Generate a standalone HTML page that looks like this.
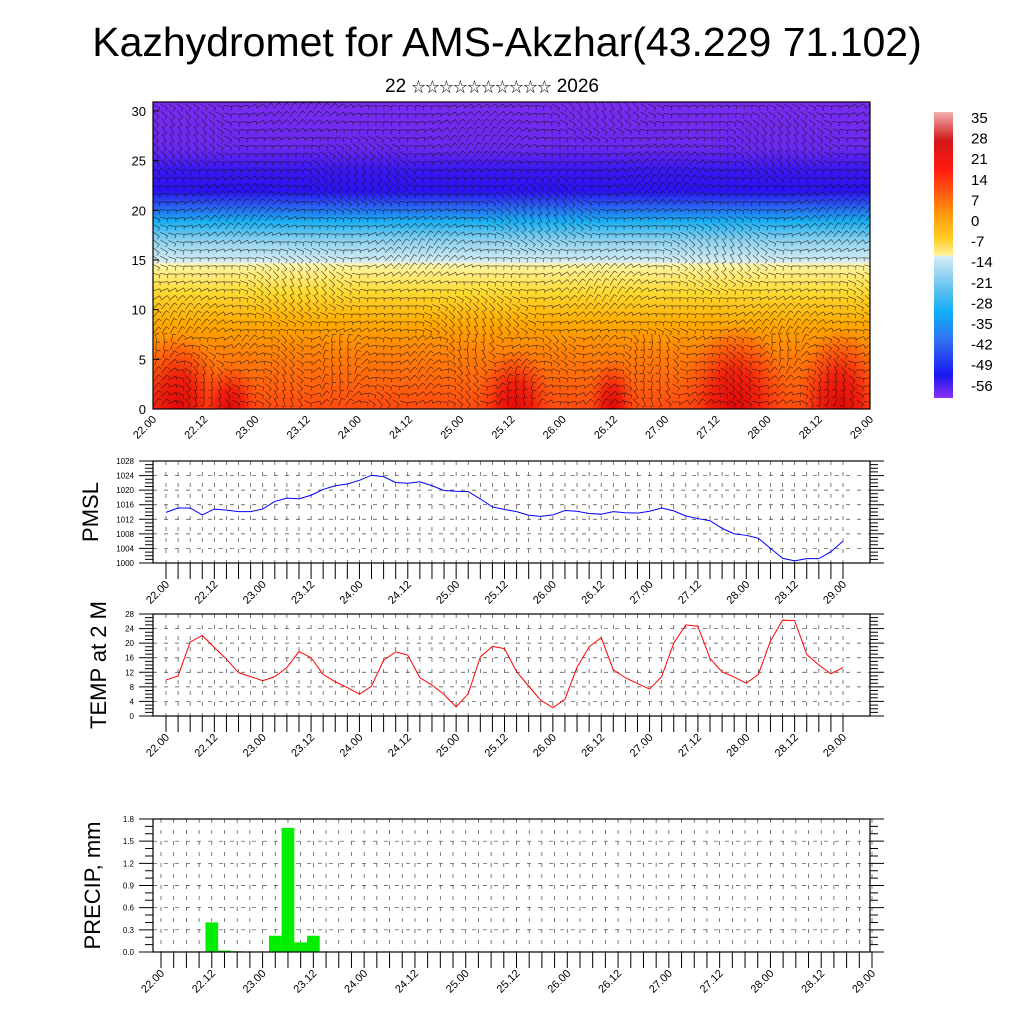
<!DOCTYPE html>
<html><head><meta charset="utf-8"><style>
html,body{margin:0;padding:0;background:#fff;}
svg{display:block;font-family:"Liberation Sans","Noto Sans CJK SC",sans-serif;}
</style></head><body>
<svg id="root" width="1024" height="1024" viewBox="0 0 1024 1024">
<defs>
<linearGradient id="tfill" x1="0" y1="102" x2="0" y2="409" gradientUnits="userSpaceOnUse">
<stop offset="0" stop-color="#7a2cf0"/>
<stop offset="0.15" stop-color="#6a28ee"/>
<stop offset="0.22" stop-color="#3a18f0"/>
<stop offset="0.29" stop-color="#2a12f0"/>
<stop offset="0.33" stop-color="#2a50f0"/>
<stop offset="0.39" stop-color="#1ab0f2"/>
<stop offset="0.45" stop-color="#8ad0f0"/>
<stop offset="0.52" stop-color="#d8ecf2"/>
<stop offset="0.53" stop-color="#fff6a8"/>
<stop offset="0.62" stop-color="#ffda30"/>
<stop offset="0.72" stop-color="#ffaa00"/>
<stop offset="0.82" stop-color="#ff8008"/>
<stop offset="1" stop-color="#ff4a10"/>
</linearGradient>
<radialGradient id="hot" cx="0.5" cy="0.5" r="0.5">
<stop offset="0" stop-color="#e00808" stop-opacity="1"/>
<stop offset="0.45" stop-color="#ee1a0c" stop-opacity="0.9"/>
<stop offset="0.8" stop-color="#ff3a10" stop-opacity="0.4"/>
<stop offset="1" stop-color="#ff4010" stop-opacity="0"/>
</radialGradient>
<linearGradient id="cbar" x1="0" y1="0" x2="0" y2="1">
<stop offset="0" stop-color="#f4b0b0"/>
<stop offset="0.1" stop-color="#d01818"/>
<stop offset="0.2" stop-color="#ff1a10"/>
<stop offset="0.28" stop-color="#ff5a10"/>
<stop offset="0.36" stop-color="#ff9a10"/>
<stop offset="0.44" stop-color="#ffcc20"/>
<stop offset="0.5" stop-color="#fff09a"/>
<stop offset="0.505" stop-color="#d8ecf6"/>
<stop offset="0.62" stop-color="#60c0f0"/>
<stop offset="0.7" stop-color="#10b0f8"/>
<stop offset="0.8" stop-color="#3070f0"/>
<stop offset="0.92" stop-color="#1818f0"/>
<stop offset="1" stop-color="#8a30f0"/>
</linearGradient>
<clipPath id="topclip"><rect x="153" y="102" width="717" height="307"/></clipPath>
</defs>

<text x="507" y="56" font-size="41" text-anchor="middle">Kazhydromet for AMS-Akzhar(43.229 71.102)</text>
<text x="492" y="92" font-size="19" text-anchor="middle">22 <tspan font-size="14">☆☆☆☆☆☆☆☆☆☆</tspan> 2026</text>

<g id="topPanel"></g>
<g id="cb"></g>
<g id="pmsl"></g>
<g id="temp"></g>
<g id="precip"></g>
</svg>
<script>
const timeLabels = ["22.00","22.12","23.00","23.12","24.00","24.12","25.00","25.12","26.00","26.12","27.00","27.12","28.00","28.12","29.00"];
const pmslValues = [1013.9,1015.1,1015.1,1013.2,1014.8,1014.5,1014.1,1014.1,1014.8,1016.9,1017.8,1017.6,1018.6,1020.2,1021.2,1021.7,1022.7,1024.1,1023.7,1022.1,1021.9,1022.3,1021.2,1019.9,1019.7,1019.6,1017.6,1015.4,1014.7,1014.1,1013.1,1012.8,1013.2,1014.4,1014.2,1013.6,1013.4,1014.1,1013.8,1013.7,1014.2,1015.1,1014.3,1012.9,1012.2,1011.6,1009.5,1008.0,1007.6,1006.8,1004.0,1001.3,1000.6,1001.2,1001.2,1003.1,1006.0];
const tempValues = [9.9,11.0,20.3,22.1,18.8,15.6,11.9,10.8,9.7,10.8,13.3,17.7,16.0,11.4,9.4,7.8,6.0,8.2,15.3,17.6,16.7,10.5,8.5,5.9,2.5,6.1,16.2,19.1,18.5,12.2,8.2,4.3,2.3,4.6,13.4,19.0,21.5,12.7,10.5,8.9,7.4,10.8,20.0,25.0,24.6,15.8,12.1,10.7,9.0,11.4,20.6,26.3,26.2,16.9,14.0,11.6,13.3];
const precipValues = [0,0,0,0,0.4,0.02,0.01,0,0,0.22,1.68,0.13,0.22,0,0,0,0,0,0,0,0,0,0,0,0,0,0,0,0,0,0,0,0,0,0,0,0,0,0,0,0,0,0,0,0,0,0,0,0,0,0,0,0,0,0,0,0];
const pmslTicks = [1000,1004,1008,1012,1016,1020,1024,1028];
const tempTicks = [0,4,8,12,16,20,24,28];
const precipTicks = [0.0,0.3,0.6,0.9,1.2,1.5,1.8];
const heightTicks = [0,5,10,15,20,25,30];
const cbarLabels = ["35","28","21","14","7","0","-7","-14","-21","-28","-35","-42","-49","-56"];

const NS="http://www.w3.org/2000/svg";
function mk(p,tag,attrs){const e=document.createElementNS(NS,tag);for(const k in attrs)e.setAttribute(k,attrs[k]);p.appendChild(e);return e;}

const topG=document.getElementById('topPanel');
const tg=mk(topG,'g',{'clip-path':'url(#topclip)'});
const bg=mk(tg,'rect',{x:153,y:102,width:717,height:307,fill:'url(#tfill)'});


[[178,45,75],[230,30,45],[515,40,60],[612,25,50],[735,55,85],[840,45,80]].forEach(b=>{
  const el=mk(tg,'ellipse',{cx:b[0],cy:409,rx:b[1],ry:b[2],fill:'url(#hot)'});
  
  
});
let wp="";
for(let y=106;y<409;y+=8){for(let x=156;x<870;x+=8){
  const a=Math.sin(x*0.031+y*0.017)*0.6+Math.sin(x*0.011-y*0.05)*0.5+(y>330?Math.sin(x*0.07)*0.9:0);
  const L=8;const dx=Math.cos(a)*L,dy=Math.sin(a)*L;
  wp+=`M${(x-dx/2).toFixed(1)} ${(y-dy/2).toFixed(1)}l${dx.toFixed(1)} ${dy.toFixed(1)}`;
  wp+=`l${(-dy*0.45).toFixed(1)} ${(dx*0.45).toFixed(1)}`;
}}
const wl=mk(tg,'path',{d:wp,stroke:'#111','stroke-width':0.7,fill:'none','stroke-opacity':0.7});


const tf=mk(topG,'rect',{x:153,y:102,width:717,height:307,fill:'none',stroke:'#000','stroke-width':1.2});


const hy=v=>409-v*(298/30);
heightTicks.forEach(v=>{
  mk(topG,'line',{x1:153,x2:159,y1:hy(v),y2:hy(v),stroke:'#000'});
  const t=mk(topG,'text',{x:146,y:hy(v)+5,'font-size':13,'text-anchor':'end'});t.textContent=v;
  
  
});
timeLabels.forEach((s,i)=>{
  const x=153+i*(717/14);
  const t=mk(topG,'text',{x:0,y:0,'font-size':11,'text-anchor':'end',transform:`translate(${x+4},${420}) rotate(-45)`});t.textContent=s;
  
  
});

const cb=document.getElementById('cb');
const cr=mk(cb,'rect',{x:934,y:112,width:19,height:286,fill:'url(#cbar)'});


cbarLabels.forEach((s,i)=>{
  const t=mk(cb,'text',{x:971,y:123+i*20.6,'font-size':15});t.textContent=s;
  
  
});

function panel(id,y0,y1,ticks,vals,color,title,titleX,minorStep,fmt,bars){
  const g=document.getElementById(id);
  const L=153,R=870;
  const x0=bars?161:166,x1=bars?872:843;
  const xs=i=>x0+i*(x1-x0)/56;
  const vmin=ticks[0],vmax=ticks[ticks.length-1];
  const ys=v=>y1-(v-vmin)/(vmax-vmin)*(y1-y0);
  let grid="";
  for(let i=0;i<=56;i++)grid+=`M${xs(i)} ${y0}V${y1}`;
  ticks.forEach(v=>{grid+=`M${L} ${ys(v)}H${R}`;});
  const gl=mk(g,'path',{d:grid,stroke:'#444','stroke-width':0.7,'stroke-dasharray':'4 7',fill:'none'});
  
  
  if(bars){
    vals.forEach((v,i)=>{ if(v<=0)return;
      const w=(x1-x0)/56;
      const r=mk(g,'rect',{x:xs(i)-w/2,y:ys(v),width:w,height:y1-ys(v),fill:color});
      
      
    });
  } else {
    const pl=mk(g,'polyline',{points:vals.map((v,i)=>xs(i)+','+ys(v)).join(' '),fill:'none',stroke:color,'stroke-width':1});
    
    
  }
  const fr=mk(g,'rect',{x:L,y:y0,width:R-L,height:y1-y0,fill:'none',stroke:'#000','stroke-width':1.2});
  
  
  let tk="";
  for(let v=vmin;v<=vmax+1e-9;v+=minorStep){tk+=`M${L-8} ${ys(v)}H${L}M${R} ${ys(v)}H${R+8}`;}
  ticks.forEach(v=>{tk+=`M${L-14} ${ys(v)}H${L}M${R} ${ys(v)}H${R+14}`;
    const t=mk(g,'text',{x:L-19,y:ys(v)+3,'font-size':8,'text-anchor':'end'});t.textContent=fmt(v);
    
    
  });
  for(let i=0;i<=56;i++)tk+=`M${xs(i)} ${y1}V${y1+16}`;
  const tl=mk(g,'path',{d:tk,stroke:'#000','stroke-width':1,fill:'none'});
  
  
  timeLabels.forEach((s,i)=>{
    const x=xs(i*4);
    const t=mk(g,'text',{x:0,y:0,'font-size':11,'text-anchor':'end',transform:`translate(${x+4},${y1+22}) rotate(-45)`});t.textContent=s;
    
    
  });
  const tt=mk(g,'text',{x:0,y:0,'font-size':22,'text-anchor':'middle',transform:`translate(${titleX},${(y0+y1)/2}) rotate(-90)`});tt.textContent=title;
  
  
}
panel('pmsl',461,563,pmslTicks,pmslValues,'#0000ff','PMSL',98,1,v=>String(v),false);
panel('temp',614,716,tempTicks,tempValues,'#ff0000','TEMP at 2 M',106,1,v=>String(v),false);
panel('precip',819,952,precipTicks,precipValues,'#00ee00','PRECIP, mm',100,0.1,v=>v.toFixed(1),true);
</script>
</body></html>
